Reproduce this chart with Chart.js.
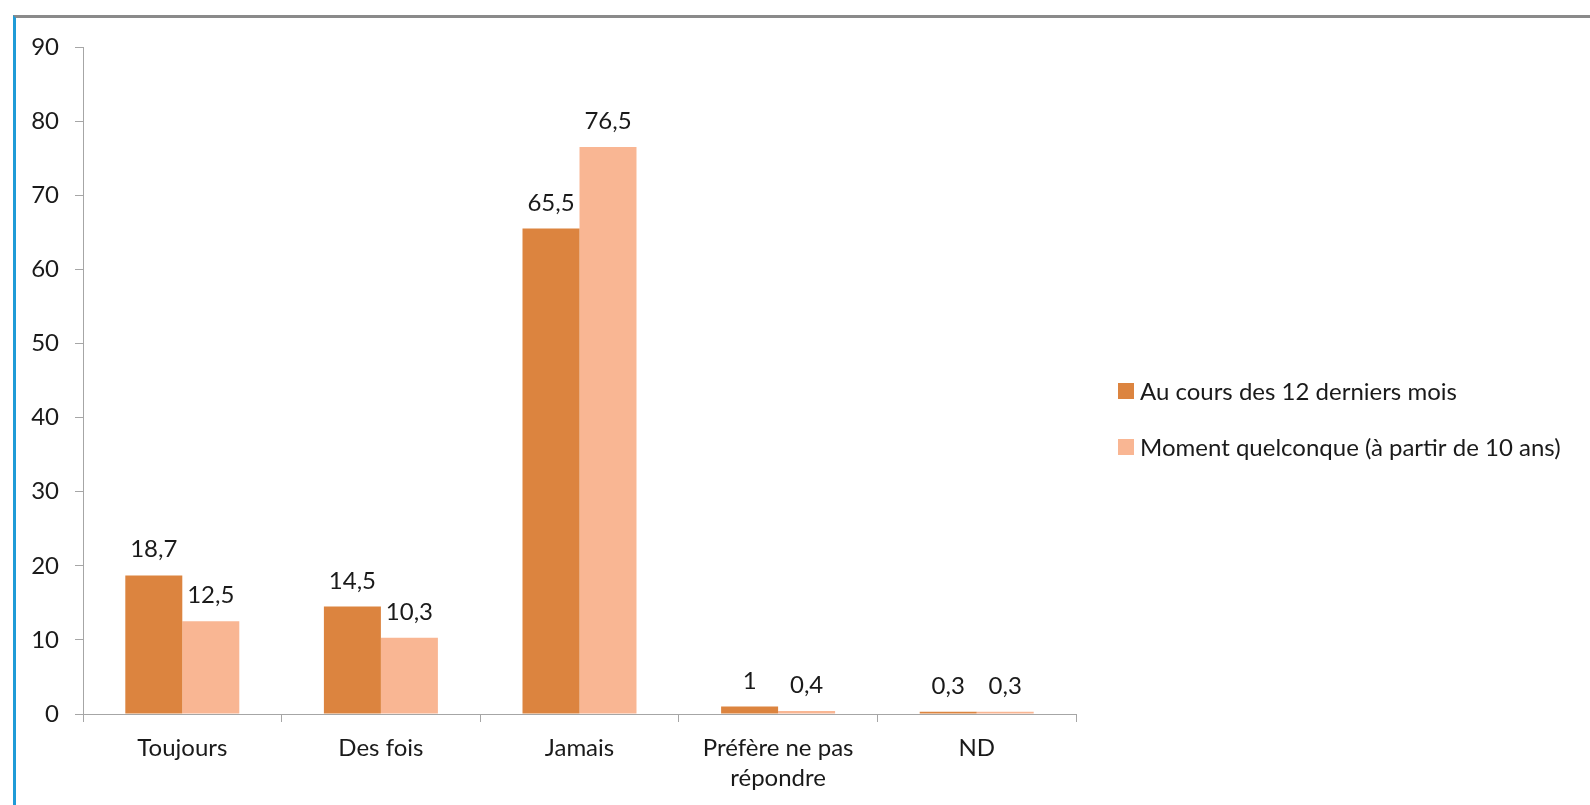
<!DOCTYPE html>
<html lang="fr">
<head>
<meta charset="utf-8">
<script src="https://cdn.jsdelivr.net/npm/chart.js@4/dist/chart.umd.min.js"></script>
<style>
  html, body { margin: 0; padding: 0; background: #fff; }
  body { width: 1590px; height: 805px; position: relative; overflow: hidden; }
  #frame {
    position: absolute; left: 13px; top: 15px; right: 0; bottom: 0;
    border-left: 3px solid #1f9bd7; border-top: 3px solid #8a8a8a;
  }
  #wrap { position: absolute; left: 0; top: 0; width: 1590px; height: 805px; }
</style>
</head>
<body>
<div id="frame"></div>
<div id="wrap"><canvas id="c" width="1590" height="805"></canvas></div>
<script>
const categories = ['Toujours', 'Des fois', 'Jamais', ['Préfère ne pas', 'répondre'], 'ND'];
const seriesNames = ['Au cours des 12 derniers mois', 'Moment quelconque (à partir de 10 ans)'];
const last12Months = [18.7, 14.5, 65.5, 1, 0.3];
const anyTime = [12.5, 10.3, 76.5, 0.4, 0.3];
const yTicks = [0, 10, 20, 30, 40, 50, 60, 70, 80, 90];

const colors = ['#dc843f', '#f9b693'];
const FONT = 'Lato, "Open Sans", sans-serif';
const SIZE = 24;
const TEXT = '#1a1a1a';
const AXIS = '#a6a6a6';

const fmt = v => String(v).replace('.', ',');

// value labels above each bar
const valueLabels = {
  id: 'valueLabels',
  afterDatasetsDraw(chart) {
    const ctx = chart.ctx;
    ctx.save();
    ctx.font = SIZE + 'px ' + FONT;
    ctx.fillStyle = TEXT;
    ctx.textAlign = 'center';
    ctx.textBaseline = 'alphabetic';
    chart.data.datasets.forEach((ds, i) => {
      chart.getDatasetMeta(i).data.forEach((bar, j) => {
        ctx.fillText(fmt(ds.data[j]), bar.x, bar.y - 18);
      });
    });
    ctx.restore();
  }
};

// legend at the right of the plot
const sideLegend = {
  id: 'sideLegend',
  afterDraw(chart) {
    const ctx = chart.ctx;
    ctx.save();
    ctx.font = SIZE + 'px ' + FONT;
    ctx.textBaseline = 'middle';
    ctx.textAlign = 'left';
    chart.data.datasets.forEach((ds, i) => {
      const cy = 391 + i * 56;
      ctx.fillStyle = ds.backgroundColor;
      ctx.fillRect(1118, cy - 8, 16, 16);
      ctx.fillStyle = TEXT;
      ctx.fillText(ds.label, 1140, cy + 1);
    });
    ctx.restore();
  }
};

new Chart(document.getElementById('c'), {
  type: 'bar',
  data: {
    labels: categories,
    datasets: [
      { label: seriesNames[0], data: last12Months, backgroundColor: colors[0] },
      { label: seriesNames[1], data: anyTime, backgroundColor: colors[1] }
    ]
  },
  options: {
    responsive: false,
    animation: false,
    devicePixelRatio: 1,
    layout: { padding: { top: 47, right: 514, left: 0, bottom: 0 } },
    datasets: { bar: { categoryPercentage: 0.574, barPercentage: 1 } },
    plugins: { legend: { display: false }, tooltip: { enabled: false } },
    scales: {
      x: {
        grid: { drawOnChartArea: false, drawTicks: true, tickLength: 8, color: AXIS, offset: true },
        border: { display: true, color: AXIS, width: 1 },
        ticks: { color: TEXT, font: { family: FONT, size: SIZE, lineHeight: 1.25 }, padding: 11, maxRotation: 0, autoSkip: false },
        afterFit(scale) { scale.height = 91; }
      },
      y: {
        min: 0, max: 90,
        afterBuildTicks(scale) { scale.ticks = yTicks.map(v => ({ value: v })); },
        grid: { drawOnChartArea: false, drawTicks: true, tickLength: 8, color: AXIS },
        border: { display: true, color: AXIS, width: 1 },
        ticks: { color: TEXT, font: { family: FONT, size: SIZE }, padding: 16 },
        afterFit(scale) { scale.width = 83; }
      }
    }
  },
  plugins: [valueLabels, sideLegend]
});
</script>
</body>
</html>
